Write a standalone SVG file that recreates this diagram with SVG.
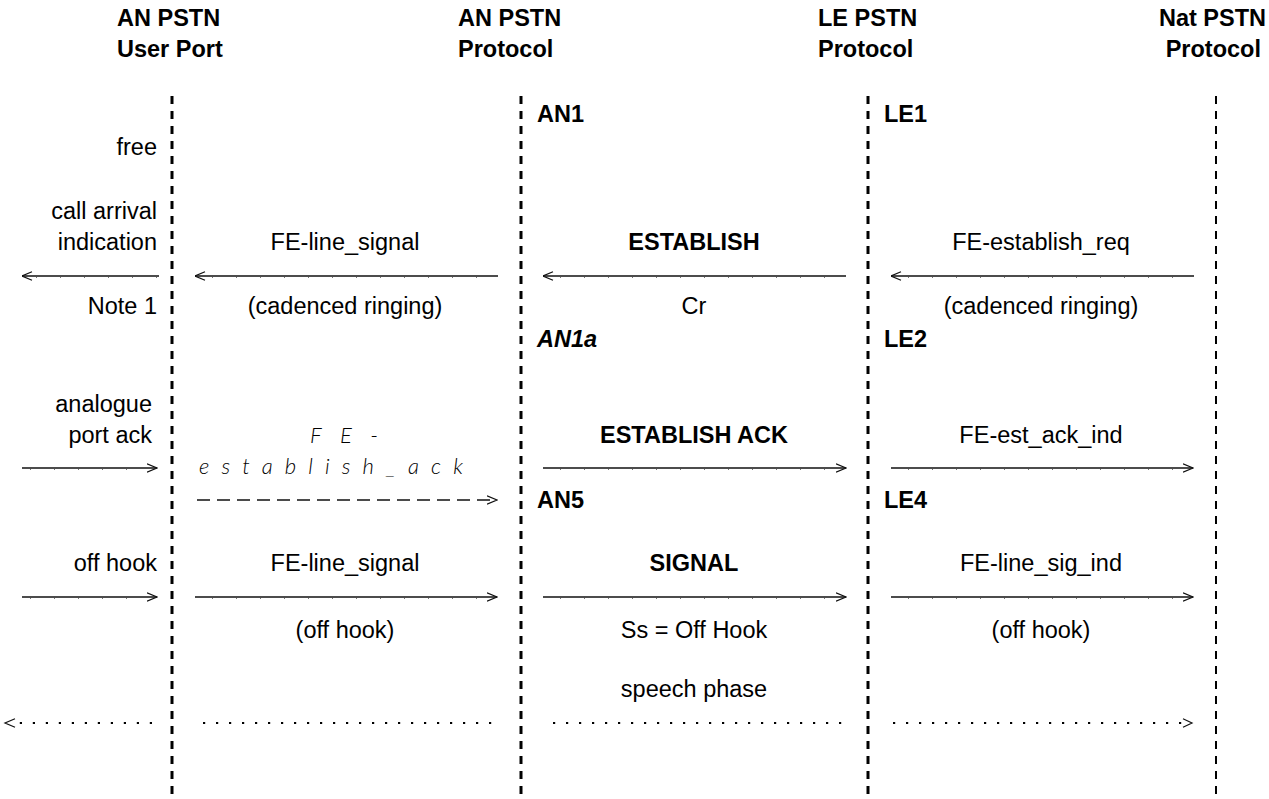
<svg xmlns="http://www.w3.org/2000/svg" width="1269" height="799" viewBox="0 0 1269 799">
  <style>
    text { font-family: "Liberation Sans", Arial, sans-serif; font-size: 23.5px; fill: #000; }
    .b { font-weight: bold; }
    .bi { font-weight: bold; font-style: italic; }
    .c { text-anchor: middle; }
    .r { text-anchor: end; }
    .thin { font-family: Lato, "DejaVu Sans", sans-serif; font-weight: 300; font-style: italic; font-size: 22px; }
    .life { stroke: #000; stroke-width: 3; stroke-dasharray: 8 7; fill: none; }
    .life-thin { stroke: #000; stroke-width: 2; stroke-dasharray: 8 7; fill: none; }
    .msg { stroke: #111; stroke-width: 1.3; fill: none; marker-end: url(#chev); }
    .tick { stroke: #555; stroke-width: 1; stroke-dasharray: 1 23; fill: none; }
    .dash { stroke: #111; stroke-width: 1.3; stroke-dasharray: 13 7; fill: none; marker-end: url(#chev); }
    .dots { stroke: #000; stroke-width: 2.2; stroke-dasharray: 2.2 10.8; fill: none; }
  </style>
  <defs>
    <marker id="chev" viewBox="0 0 11 10" refX="10.5" refY="5" markerWidth="11" markerHeight="10" markerUnits="userSpaceOnUse" orient="auto">
      <path d="M0.5,0.8 L10.5,5 L0.5,9.2" fill="none" stroke="#111" stroke-width="1.2"/>
    </marker>
  </defs>

  <rect width="1269" height="799" fill="#fff"/>

  <!-- column headings -->
  <g id="hdr-user-port">
    <text class="b" x="117" y="26">AN PSTN</text>
    <text class="b" x="117" y="57">User Port</text>
  </g>
  <g id="hdr-an-protocol">
    <text class="b" x="458" y="26">AN PSTN</text>
    <text class="b" x="458" y="57">Protocol</text>
  </g>
  <g id="hdr-le-protocol">
    <text class="b" x="818" y="26">LE PSTN</text>
    <text class="b" x="818" y="57">Protocol</text>
  </g>
  <g id="hdr-nat-protocol">
    <text class="b r" x="1266" y="26">Nat PSTN</text>
    <text class="b r" x="1261" y="57">Protocol</text>
  </g>

  <!-- lifelines -->
  <g id="lifelines">
    <line class="life" x1="172" y1="96" x2="172" y2="799"/>
    <line class="life" x1="521" y1="96" x2="521" y2="799"/>
    <line class="life" x1="868" y1="96" x2="868" y2="799"/>
    <line class="life-thin" x1="1216" y1="96" x2="1216" y2="799"/>
  </g>

  <!-- state labels -->
  <g id="an-states">
    <text class="b" x="537" y="122">AN1</text>
    <text class="bi" x="537" y="347">AN1a</text>
    <text class="b" x="537" y="508">AN5</text>
  </g>
  <g id="le-states">
    <text class="b" x="884" y="122">LE1</text>
    <text class="b" x="884" y="347">LE2</text>
    <text class="b" x="884" y="508">LE4</text>
  </g>

  <!-- user port side labels -->
  <g id="port-labels">
    <text class="r" x="157" y="155">free</text>
    <text class="r" x="157" y="219">call arrival</text>
    <text class="r" x="157" y="250">indication</text>
    <text class="r" x="157" y="314">Note 1</text>
    <text class="r" x="152" y="412">analogue</text>
    <text class="r" x="152" y="443">port ack</text>
    <text class="r" x="157" y="571">off hook</text>
  </g>

  <!-- message labels -->
  <g id="msg-labels">
    <text class="c" x="345" y="250">FE-line_signal</text>
    <text class="c" x="345" y="314">(cadenced ringing)</text>
    <text class="b c" x="694" y="250">ESTABLISH</text>
    <text class="c" x="694" y="314">Cr</text>
    <text class="c" x="1041" y="250">FE-establish_req</text>
    <text class="c" x="1041" y="314">(cadenced ringing)</text>

    <text class="thin" x="310" y="443" textLength="68" lengthAdjust="spacing">FE-</text>
    <text class="thin" x="199" y="474" textLength="264" lengthAdjust="spacing">establish_ack</text>
    <text class="b c" x="694" y="443">ESTABLISH ACK</text>
    <text class="c" x="1041" y="443">FE-est_ack_ind</text>

    <text class="c" x="345" y="571">FE-line_signal</text>
    <text class="b c" x="694" y="571">SIGNAL</text>
    <text class="c" x="1041" y="571">FE-line_sig_ind</text>
    <text class="c" x="345" y="638">(off hook)</text>
    <text class="c" x="694" y="638">Ss = Off Hook</text>
    <text class="c" x="1041" y="638">(off hook)</text>

    <text class="c" x="694" y="697">speech phase</text>
  </g>

  <!-- connectors -->
  <g id="connectors">
    <!-- call arrival / establish (leftward) -->
    <line class="msg" x1="159" y1="276" x2="22" y2="276"/>
    <line class="msg" x1="498" y1="276" x2="195" y2="276"/>
    <line class="msg" x1="846" y1="276" x2="543" y2="276"/>
    <line class="msg" x1="1194" y1="276" x2="891" y2="276"/>
    <!-- acknowledgement (rightward) -->
    <line class="msg" x1="22" y1="468" x2="157" y2="468"/>
    <line class="dash" x1="197" y1="500" x2="497" y2="500"/>
    <line class="msg" x1="543" y1="468" x2="846" y2="468"/>
    <line class="msg" x1="891" y1="468" x2="1193" y2="468"/>
    <!-- off hook (rightward) -->
    <line class="msg" x1="22" y1="597" x2="157" y2="597"/>
    <line class="msg" x1="195" y1="597" x2="497" y2="597"/>
    <line class="msg" x1="543" y1="597" x2="846" y2="597"/>
    <line class="msg" x1="891" y1="597" x2="1193" y2="597"/>
    <!-- small joins along the solid message lines -->
    <g class="ticks">
      <line class="tick" x1="36" y1="277.3" x2="159" y2="277.3"/>
      <line class="tick" x1="212" y1="277.3" x2="498" y2="277.3"/>
      <line class="tick" x1="560" y1="277.3" x2="846" y2="277.3"/>
      <line class="tick" x1="908" y1="277.3" x2="1194" y2="277.3"/>
      <line class="tick" x1="30" y1="469.3" x2="145" y2="469.3"/>
      <line class="tick" x1="560" y1="469.3" x2="834" y2="469.3"/>
      <line class="tick" x1="908" y1="469.3" x2="1181" y2="469.3"/>
      <line class="tick" x1="30" y1="598.3" x2="145" y2="598.3"/>
      <line class="tick" x1="212" y1="598.3" x2="485" y2="598.3"/>
      <line class="tick" x1="560" y1="598.3" x2="834" y2="598.3"/>
      <line class="tick" x1="908" y1="598.3" x2="1181" y2="598.3"/>
    </g>
    <!-- speech phase (dotted) -->
    <line class="dots" x1="152" y1="723" x2="18" y2="723"/>
    <path d="M15,718.8 L5,723 L15,727.2" fill="none" stroke="#111" stroke-width="1.2"/>
    <line class="dots" x1="203" y1="723" x2="492" y2="723"/>
    <line class="dots" x1="553" y1="723" x2="845" y2="723"/>
    <line class="dots" x1="893" y1="723" x2="1182" y2="723"/>
    <path d="M1183,718.8 L1192,723 L1183,727.2" fill="none" stroke="#111" stroke-width="1.2"/>
  </g>
</svg>
